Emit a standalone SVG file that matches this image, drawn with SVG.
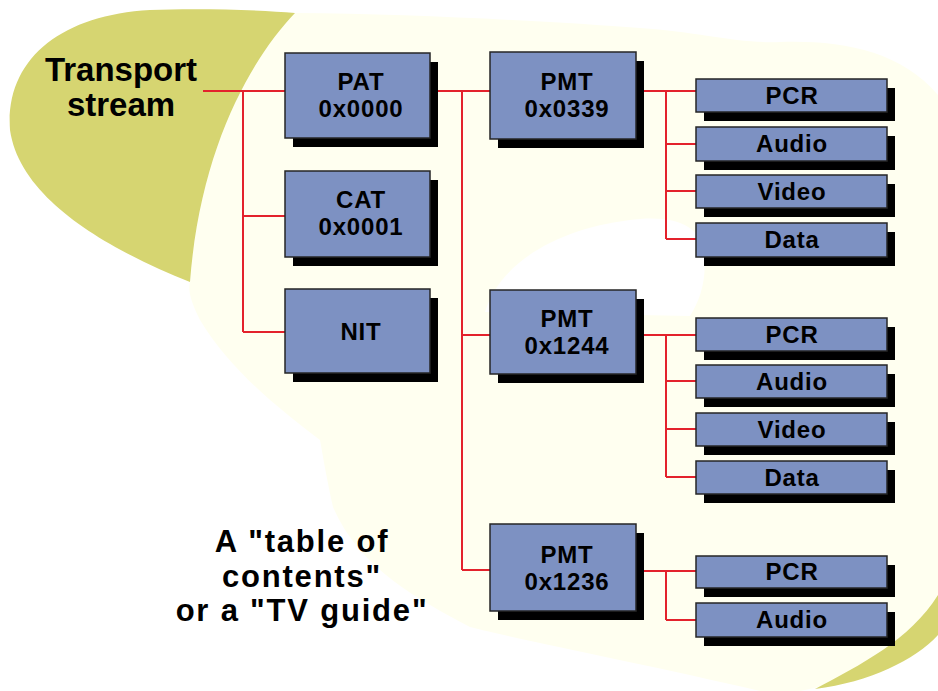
<svg xmlns="http://www.w3.org/2000/svg" width="938" height="691" viewBox="0 0 938 691">
<style>
.bg{fill:#ffffff}
.cream{fill:#fffff0}
.blob{fill:#d6d571}
.sh{fill:#000000}
.box{fill:#7d91c2;stroke:#262626;stroke-width:1.5}
.lbl{font-family:"Liberation Sans",Arial,sans-serif;font-weight:bold;font-size:24px;letter-spacing:0.8px;fill:#000;text-anchor:middle}
.big{font-family:"Liberation Sans",Arial,sans-serif;font-weight:bold;font-size:33px;fill:#000;text-anchor:middle}
.cap{font-family:"Liberation Sans",Arial,sans-serif;font-weight:bold;font-size:31px;letter-spacing:1.8px;fill:#000;text-anchor:middle}
.wire{fill:none;stroke:#e3222c;stroke-width:2}
</style>
<rect class="bg" x="0" y="0" width="938" height="691"/>
<g id="background">
<path class="cream" d="M295 13 C420 14 560 22 640 28 C700 32 740 44 780 42 C840 40 900 50 938 95 L938 600 C900 650 860 680 800 691 L760 691 C650 665 520 640 470 627 C420 600 360 570 333 507 C325 470 322 450 320 440 C280 410 230 370 200 320 C190 300 188 290 190 282 C200 150 250 60 295 13 Z"/>
<path class="bg" d="M485 312 C500 262 560 226 640 219 C680 216 700 228 704 252 C707 280 700 300 690 316 Z"/>
<path class="blob" d="M295 13 C250 60 200 150 190 282 C110 250 20 200 10 130 C5 60 60 15 150 10 C200 8 260 10 295 13 Z"/>
<path class="blob" d="M815 689 C860 665 910 640 938 595 L938 635 C915 660 870 682 815 689 Z"/>
</g>
<g id="connectors">
<path class="wire" d="M203 91 H285 M243 91 V332 M243 216 H285 M243 332 H285"/>
<path class="wire" d="M430 91 H490 M462 91 V570 M462 335 H490 M462 570 H490"/>
<path class="wire" d="M636 91 H696 M666 91 V239 M666 144 H696 M666 191 H696 M666 239 H696"/>
<path class="wire" d="M636 335 H696 M666 335 V477 M666 381 H696 M666 429 H696 M666 477 H696"/>
<path class="wire" d="M636 571 H696 M666 571 V620 M666 620 H696"/>
</g>
<g id="transport-stream">
<text class="big" x="121" y="81">Transport</text>
<text class="big" x="121" y="116">stream</text>
</g>
<g id="pat">
<rect class="sh" x="293" y="62" width="145" height="85"/>
<rect class="box" x="285" y="53" width="145" height="85"/>
<text class="lbl" x="361" y="90">PAT</text>
<text class="lbl" x="361" y="117">0x0000</text>
</g>
<g id="cat">
<rect class="sh" x="293" y="180" width="145" height="86"/>
<rect class="box" x="285" y="171" width="145" height="86"/>
<text class="lbl" x="361" y="208">CAT</text>
<text class="lbl" x="361" y="235">0x0001</text>
</g>
<g id="nit">
<rect class="sh" x="293" y="298" width="145" height="84"/>
<rect class="box" x="285" y="289" width="145" height="84"/>
<text class="lbl" x="361" y="340">NIT</text>
</g>
<g id="pmt-0339">
<rect class="sh" x="498" y="61" width="146" height="87"/>
<rect class="box" x="490" y="52" width="146" height="87"/>
<text class="lbl" x="567" y="90">PMT</text>
<text class="lbl" x="567" y="117">0x0339</text>
</g>
<g id="pmt-1244">
<rect class="sh" x="498" y="299" width="146" height="84"/>
<rect class="box" x="490" y="290" width="146" height="84"/>
<text class="lbl" x="567" y="327">PMT</text>
<text class="lbl" x="567" y="354">0x1244</text>
</g>
<g id="pmt-1236">
<rect class="sh" x="498" y="533" width="146" height="87"/>
<rect class="box" x="490" y="524" width="146" height="87"/>
<text class="lbl" x="567" y="563">PMT</text>
<text class="lbl" x="567" y="590">0x1236</text>
</g>
<g id="pcr-1"><rect class="sh" x="704" y="88" width="191" height="33"/><rect class="box" x="696" y="79" width="191" height="33"/><text class="lbl" x="792" y="104">PCR</text></g>
<g id="audio-1"><rect class="sh" x="704" y="136" width="191" height="34"/><rect class="box" x="696" y="127" width="191" height="34"/><text class="lbl" x="792" y="152">Audio</text></g>
<g id="video-1"><rect class="sh" x="704" y="184" width="191" height="33"/><rect class="box" x="696" y="175" width="191" height="33"/><text class="lbl" x="792" y="200">Video</text></g>
<g id="data-1"><rect class="sh" x="704" y="232" width="191" height="34"/><rect class="box" x="696" y="223" width="191" height="34"/><text class="lbl" x="792" y="248">Data</text></g>
<g id="pcr-2"><rect class="sh" x="704" y="327" width="191" height="33"/><rect class="box" x="696" y="318" width="191" height="33"/><text class="lbl" x="792" y="343">PCR</text></g>
<g id="audio-2"><rect class="sh" x="704" y="374" width="191" height="33"/><rect class="box" x="696" y="365" width="191" height="33"/><text class="lbl" x="792" y="390">Audio</text></g>
<g id="video-2"><rect class="sh" x="704" y="422" width="191" height="33"/><rect class="box" x="696" y="413" width="191" height="33"/><text class="lbl" x="792" y="438">Video</text></g>
<g id="data-2"><rect class="sh" x="704" y="470" width="191" height="33"/><rect class="box" x="696" y="461" width="191" height="33"/><text class="lbl" x="792" y="486">Data</text></g>
<g id="pcr-3"><rect class="sh" x="704" y="565" width="191" height="32"/><rect class="box" x="696" y="556" width="191" height="32"/><text class="lbl" x="792" y="580">PCR</text></g>
<g id="audio-3"><rect class="sh" x="704" y="612" width="191" height="34"/><rect class="box" x="696" y="603" width="191" height="34"/><text class="lbl" x="792" y="628">Audio</text></g>
<g id="caption">
<text class="cap" x="302" y="552">A "table of</text>
<text class="cap" x="302" y="587">contents"</text>
<text class="cap" x="302" y="621">or a "TV guide"</text>
</g>
</svg>
